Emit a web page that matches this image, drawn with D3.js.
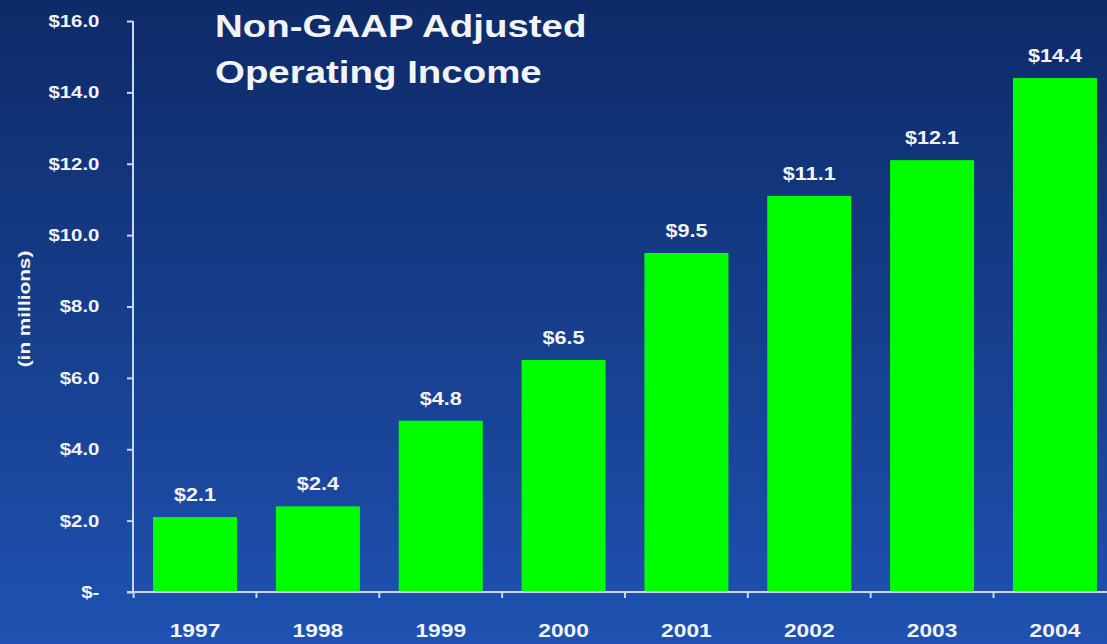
<!DOCTYPE html>
<html>
<head>
<meta charset="utf-8">
<script src="https://cdn.jsdelivr.net/npm/d3@7"></script>
<style>
  html, body { margin: 0; padding: 0; background: #15378a; }
  svg { display: block; }
  text { font-family: "Liberation Sans", Arial, sans-serif; }
</style>
</head>
<body>
<svg id="chart" width="1107" height="644"></svg>
<script>
const categories = ["1997", "1998", "1999", "2000", "2001", "2002", "2003", "2004"];
const values = [2.1, 2.4, 4.8, 6.5, 9.5, 11.1, 12.1, 14.4];
const valueLabels = ["$2.1", "$2.4", "$4.8", "$6.5", "$9.5", "$11.1", "$12.1", "$14.4"];
const yTicks = [0, 2, 4, 6, 8, 10, 12, 14, 16];
const yTickLabels = ["$-", "$2.0", "$4.0", "$6.0", "$8.0", "$10.0", "$12.0", "$14.0", "$16.0"];
const titleLines = ["Non-GAAP Adjusted", "Operating Income"];
const yAxisTitle = "(in millions)";

const W = 1107, H = 644;
const SX = 1.2; // horizontal stretch of the slide's text
const svg = d3.select("#chart");

// background gradient
const defs = svg.append("defs");
const grad = defs.append("linearGradient").attr("id", "bg")
  .attr("x1", 0).attr("y1", 0).attr("x2", 0).attr("y2", 1);
grad.append("stop").attr("offset", "0%").attr("stop-color", "#0e2a68");
grad.append("stop").attr("offset", "55%").attr("stop-color", "#17408f");
grad.append("stop").attr("offset", "100%").attr("stop-color", "#1f52b2");
svg.append("rect").attr("width", W).attr("height", H).attr("fill", "url(#bg)");

const axisColor = "#c9d6ee";
const textColor = "#f2f4f8";

const x0 = 133, yTop = 21, yBottom = 592;
const y = d3.scaleLinear().domain([0, 16]).range([yBottom, yTop]);
const x = d3.scaleBand().domain(categories)
  .range([x0, 1117]).paddingInner(0.316).paddingOuter(0.163);

// bars
svg.append("g").selectAll("rect").data(values).join("rect")
  .attr("x", (d, i) => x(categories[i]))
  .attr("y", d => y(d))
  .attr("width", x.bandwidth())
  .attr("height", d => y(0) - y(d))
  .attr("fill", "#00ff00");

// value labels
svg.append("g").selectAll("text").data(values).join("text")
  .attr("transform", (d, i) =>
    `translate(${x(categories[i]) + x.bandwidth() / 2},${y(d) - 16}) scale(${SX},1)`)
  .attr("text-anchor", "middle")
  .attr("font-size", 18).attr("font-weight", "bold")
  .attr("fill", textColor)
  .text((d, i) => valueLabels[i]);

// y axis
const yAxis = d3.axisLeft(y).tickValues(yTicks)
  .tickFormat((d, i) => yTickLabels[i]).tickSize(6).tickPadding(22);
const gy = svg.append("g").attr("transform", `translate(${x0},0)`).call(yAxis);
gy.select(".domain").attr("stroke", axisColor).attr("stroke-width", 2)
  .attr("d", `M0,${yTop}H0V${yBottom}`);
gy.selectAll(".tick line").attr("stroke", axisColor).attr("stroke-width", 2);
gy.selectAll(".tick text").attr("fill", textColor)
  .attr("font-size", 17).attr("font-weight", "bold")
  .attr("transform", `scale(${SX},1)`)
  .attr("font-family", "'Liberation Sans', Arial, sans-serif");

// x axis line
svg.append("line").attr("x1", x0 - 6).attr("x2", W).attr("y1", yBottom).attr("y2", yBottom)
  .attr("stroke", axisColor).attr("stroke-width", 2);
// x ticks at band boundaries
const step = x.step();
const boundaries = categories.map(c => x(c) - step * x.paddingInner() / 2);
svg.append("g").selectAll("line").data(boundaries).join("line")
  .attr("x1", d => d).attr("x2", d => d)
  .attr("y1", yBottom).attr("y2", yBottom + 6)
  .attr("stroke", axisColor).attr("stroke-width", 2);
// year labels
svg.append("g").selectAll("text").data(categories).join("text")
  .attr("transform", d => `translate(${x(d) + x.bandwidth() / 2},637) scale(${SX},1)`)
  .attr("text-anchor", "middle")
  .attr("font-size", 19).attr("font-weight", "bold")
  .attr("fill", textColor)
  .text(d => d);

// y axis title
svg.append("text")
  .attr("transform", "translate(30,309) rotate(-90) scale(1.3,1)")
  .attr("text-anchor", "middle")
  .attr("font-size", 16).attr("font-weight", "bold")
  .attr("fill", textColor)
  .text(yAxisTitle);

// title
svg.append("g").selectAll("text").data(titleLines).join("text")
  .attr("transform", (d, i) => `translate(215,${37 + i * 46}) scale(1.24,1)`)
  .attr("font-size", 31).attr("font-weight", "bold")
  .attr("fill", textColor)
  .text(d => d);
</script>
</body>
</html>
